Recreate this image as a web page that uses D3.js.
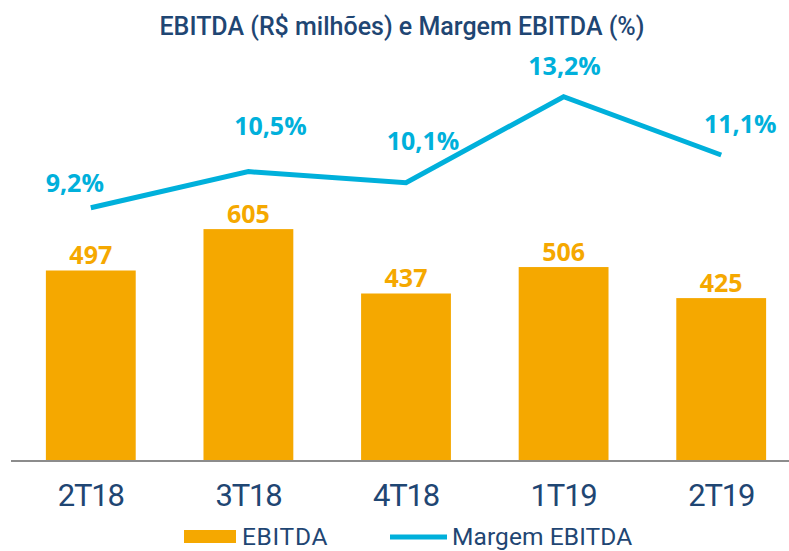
<!DOCTYPE html>
<html><head><meta charset="utf-8">
<script src="https://cdn.jsdelivr.net/npm/d3@7/dist/d3.min.js"></script>
<style>body{margin:0;background:#fff}svg{display:block}</style>
</head><body>
<svg id="c" width="789" height="551"></svg>
<script>
const categories = ["2T18","3T18","4T18","1T19","2T19"];
const ebitda = [497, 605, 437, 506, 425];
const margem = [9.2, 10.5, 10.1, 13.2, 11.1];
const ebitdaLabels = ["497","605","437","506","425"];
const margemLabels = ["9,2%","10,5%","10,1%","13,2%","11,1%"];
const title = "EBITDA (R$ milhões) e Margem EBITDA (%)";
const legendItems = ["EBITDA","Margem EBITDA"];

const orange = "#F5A800", cyan = "#00B0DB", navy = "#1F4673";
const svg = d3.select("#c");

const x = d3.scaleBand().domain(categories).range([12, 800]).paddingInner(0.43).paddingOuter(0.215);
const y = d3.scaleLinear().domain([0, 1000]).range([461, 77.7]);
const y2 = d3.scaleLinear().domain([0, 16]).range([463, 19]);

// title
svg.append("text").attr("x", 402).attr("y", 35).attr("text-anchor","middle")
  .attr("font-family","Roboto").attr("font-weight",500).attr("font-size",25)
  .attr("fill", navy).text(title);

// bars
svg.selectAll("rect.bar").data(ebitda).join("rect").attr("class","bar")
  .attr("x",(d,i)=>x(categories[i])).attr("width",x.bandwidth())
  .attr("y",d=>y(d)).attr("height",d=>y(0)-y(d)).attr("fill",orange);

// bar labels
svg.selectAll("text.bl").data(ebitda).join("text").attr("class","bl")
  .attr("x",(d,i)=>x(categories[i])+x.bandwidth()/2).attr("y",d=>y(d)-6)
  .attr("text-anchor","middle").attr("font-family","Open Sans").attr("font-weight",700)
  .attr("font-size",25).attr("fill",orange).text((d,i)=>ebitdaLabels[i]);

// axis baseline
const xAxis = svg.append("g").attr("transform","translate(0,461)")
  .call(d3.axisBottom(x).tickSize(0).tickPadding(0));
xAxis.select(".domain").remove();
xAxis.selectAll("text").remove();
svg.append("line").attr("x1",11).attr("x2",789).attr("y1",461).attr("y2",461)
  .attr("stroke","#8c8c8c").attr("stroke-width",2);

// category labels
svg.selectAll("text.cat").data(categories).join("text").attr("class","cat")
  .attr("x",d=>x(d)+x.bandwidth()/2).attr("y",506)
  .attr("text-anchor","middle").attr("font-family","Roboto").attr("font-size",31)
  .attr("letter-spacing",-1.2).attr("fill",navy).text(d=>d);

// line
const line = d3.line().x((d,i)=>x(categories[i])+x.bandwidth()/2).y(d=>y2(d));
svg.append("path").datum(margem).attr("d",line).attr("fill","none")
  .attr("stroke",cyan).attr("stroke-width",5).attr("stroke-linejoin","miter");

// line labels offsets (dx, dy relative to point)
const off = [[-16,-16],[22,-37],[17,-33],[1,-22],[19,-22]];
svg.selectAll("text.ll").data(margem).join("text").attr("class","ll")
  .attr("x",(d,i)=>x(categories[i])+x.bandwidth()/2+off[i][0]).attr("y",(d,i)=>y2(d)+off[i][1])
  .attr("text-anchor","middle").attr("font-family","Open Sans").attr("font-weight",700)
  .attr("font-size",25).attr("fill",cyan).text((d,i)=>margemLabels[i]);

// legend
svg.append("rect").attr("x",184).attr("y",530).attr("width",52).attr("height",13).attr("fill",orange);
svg.append("text").attr("x",242).attr("y",545).attr("font-family","Roboto").attr("font-size",24.5)
  .attr("letter-spacing",0.7).attr("fill",navy).text(legendItems[0]);
svg.append("line").attr("x1",390).attr("x2",447).attr("y1",537).attr("y2",537)
  .attr("stroke",cyan).attr("stroke-width",5);
svg.append("text").attr("x",452).attr("y",545).attr("font-family","Roboto").attr("font-size",24.5)
  .attr("letter-spacing",0.1).attr("fill",navy).text(legendItems[1]);
</script>
</body></html>
